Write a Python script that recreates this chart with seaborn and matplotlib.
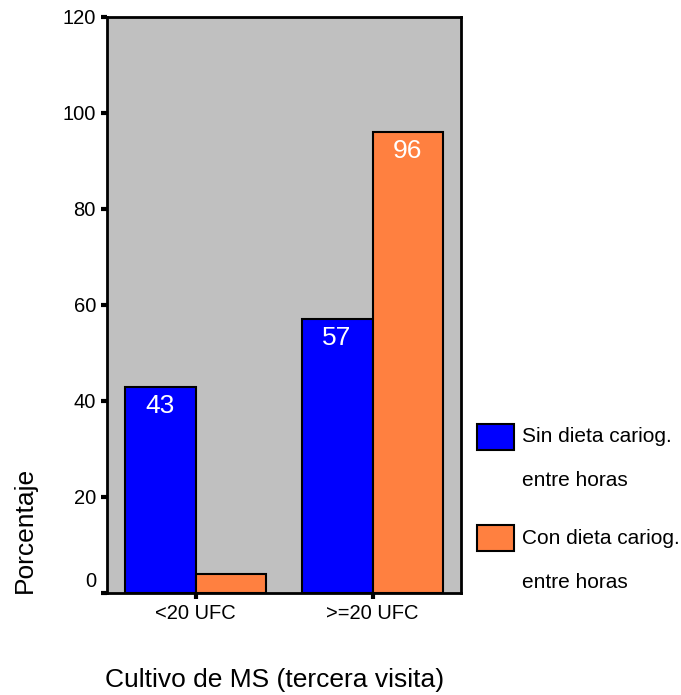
import matplotlib
matplotlib.use("Agg")
import matplotlib.pyplot as plt
import matplotlib.transforms as mtransforms
import seaborn as sns
import pandas as pd
from matplotlib.patches import Rectangle

categories = ['<20 UFC', '>=20 UFC']
groups = ['Sin dieta cariog.\nentre horas', 'Con dieta cariog.\nentre horas']
sin_dieta = [43, 57]
con_dieta = [4, 96]
bar_labels_sin = ['43', '57']
bar_labels_con = ['', '96']
colors = ['#0000FF', '#FF8040']

sns.set_theme(style='white')
plt.rcParams['font.family'] = ['Liberation Sans', 'DejaVu Sans']
plt.rcParams['text.color'] = 'black'
plt.rcParams['xtick.color'] = 'black'
plt.rcParams['ytick.color'] = 'black'

df = pd.DataFrame({
    'cat': categories * 2,
    'grupo': [groups[0]] * 2 + [groups[1]] * 2,
    'val': sin_dieta + con_dieta,
})

W, H = 681, 695
fig = plt.figure(figsize=(W / 100, H / 100), dpi=100)
ax = fig.add_axes([107 / W, 1 - 593 / H, (461 - 107) / W, (593 - 17) / H])
ax.set_facecolor('#C0C0C0')

sns.barplot(data=df, x='cat', y='val', hue='grupo', order=categories,
            hue_order=groups, palette=colors, saturation=1, width=0.8,
            edgecolor='black', linewidth=1.5, legend=False, ax=ax)

ax.set_xlim(-0.5, 1.5)
ax.set_ylim(0, 120)
ax.set_yticks(range(0, 121, 20))
ax.set_xlabel('')
ax.set_ylabel('')
ax.tick_params(axis='both', direction='out', length=4, width=3, color='black',
               labelcolor='black', left=True, bottom=True, labelsize=14.5, pad=4)
ax.tick_params(axis='x', labelsize=14.5, pad=4)
ylabs = ax.get_yticklabels()
ylabs[0].set_transform(ylabs[0].get_transform() +
                       mtransforms.ScaledTranslation(0, 10 / 72, fig.dpi_scale_trans))

for s in ax.spines.values():
    s.set_visible(True)
    s.set_color('black')
    s.set_linewidth(2)

# value labels inside bars
for cont, labs in zip(ax.containers, [bar_labels_sin, bar_labels_con]):
    for rect, lab in zip(cont, labs):
        if lab:
            ax.annotate(lab, (rect.get_x() + rect.get_width() / 2, rect.get_height()),
                        xytext=(0, -5), textcoords='offset points',
                        ha='center', va='top', color='white', fontsize=19)

fig.text(275 / W, 1 - 680 / H, 'Cultivo de MS (tercera visita)', ha='center',
         va='center', fontsize=19, color='black')
fig.text(25 / W, 1 - 530 / H, 'Porcentaje', rotation=90, ha='center',
         va='center', fontsize=19, color='black')

# legend
for i, (g, c) in enumerate(zip(groups, colors)):
    y0 = 437 + i * 101
    fig.patches.append(Rectangle((477 / W, 1 - (y0 + 13) / H), 37 / W, 26 / H,
                                 facecolor=c, edgecolor='black', linewidth=1.5,
                                 transform=fig.transFigure, figure=fig))
    l1, l2 = g.split('\n')
    fig.text(522 / W, 1 - y0 / H, l1, ha='left', va='center', fontsize=15, color='black')
    fig.text(522 / W, 1 - (y0 + 44) / H, l2, ha='left', va='center', fontsize=15, color='black')

fig.savefig('out.png', dpi=100)
